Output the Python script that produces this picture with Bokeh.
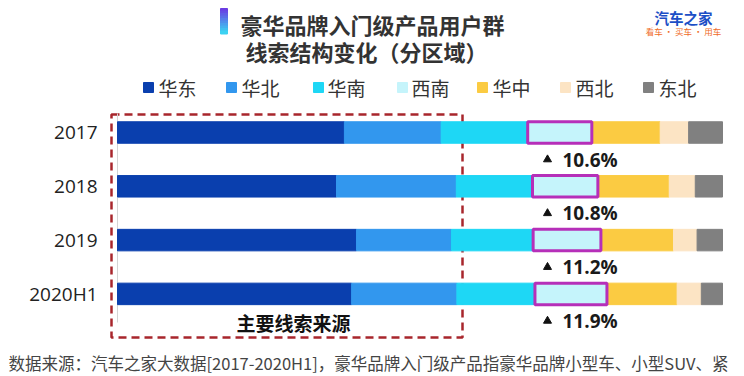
from bokeh.plotting import figure
from bokeh.models import ColumnDataSource, Range1d
from bokeh.embed import file_html
from bokeh.resources import INLINE
from bokeh.core.properties import value

# ---------------- data ----------------
years = ["2017", "2018", "2019", "2020H1"]
regions = ["华东", "华北", "华南", "西南", "华中", "西北", "东北"]
huadong = [37.5, 36.2, 39.5, 38.7]
huabei = [16.0, 19.8, 15.7, 17.4]
huanan = [14.3, 12.6, 13.5, 12.9]
xinan = [10.6, 10.8, 11.2, 11.9]
huazhong = [11.3, 11.8, 12.0, 11.6]
xibei = [4.7, 4.3, 3.9, 4.0]
dongbei = [5.6, 4.5, 4.2, 3.5]
xinan_labels = ["10.6%", "10.8%", "11.2%", "11.9%"]
colors = ["#0a3fae", "#3297ee", "#1ed7f5", "#c5f4fb", "#fbcb42", "#fce4c4", "#808080"]

title_lines = ["豪华品牌入门级产品用户群", "线索结构变化（分区域）"]
box_label = "主要线索来源"
footnote = "数据来源：汽车之家大数据[2017-2020H1]，豪华品牌入门级产品指豪华品牌小型车、小型SUV、紧"

# ---------------- layout helpers (pixel -> data) ----------------
W, H = 744, 376
PX0, PX_PER = 117.0, 6.05      # x pixel of 0 %, pixels per %
Y0, PY = 132.0, 53.8           # y pixel of first row, pixels per row


def dx(px):
    return (px - PX0) / PX_PER


def dy(py):
    return (py - Y0) / PY


CJK = value("Noto Sans CJK SC")
LAT = value("Open Sans")

p = figure(width=W, height=H, output_backend="svg", toolbar_location=None,
           x_range=Range1d(dx(0), dx(W)), y_range=Range1d(dy(H), dy(0)),
           x_axis_location=None, y_axis_location=None,
           min_border=0, min_border_left=0, min_border_right=0,
           min_border_top=0, min_border_bottom=0)
p.grid.visible = False
p.outline_line_color = None
p.background_fill_color = "white"
p.border_fill_color = "white"

idx = list(range(len(years)))
src = ColumnDataSource(dict(idx=idx, 华东=huadong, 华北=huabei, 华南=huanan,
                            西南=xinan, 华中=huazhong, 西北=xibei, 东北=dongbei))

BAR_H = 21.5 / PY

# dashed "main source" box
p.quad(left=[dx(111)], right=[dx(462)], top=[dy(114)], bottom=[dy(337)],
       fill_color=None, line_color="#a8262c", line_width=2.5, line_dash="8 5")

# axis line
p.segment(x0=[0], y0=[dy(113)], x1=[0], y1=[dy(322)], line_color="#d4d4d4", line_width=1)

# stacked bars
p.hbar_stack(regions, y="idx", height=BAR_H, color=colors, source=src)

# outline of 西南 segment
xl = [a + b + c for a, b, c in zip(huadong, huabei, huanan)]
xr = [l + v for l, v in zip(xl, xinan)]
p.hbar(y=idx, left=xl, right=xr, height=BAR_H, fill_color=None,
       line_color="#b62fb9", line_width=3)

# 西南 share labels
lab_y = [i + 27.0 / PY for i in idx]
p.scatter(x=[dx(547)] * len(idx), y=lab_y, marker="triangle", size=8,
          color="#111111")
p.text(x=[dx(562)] * len(idx), y=lab_y, text=xinan_labels, text_font=LAT,
       text_font_size=value("19px"), text_font_style="bold", text_color="#1a1a1a",
       text_align="left", text_baseline="middle")

# year (category) labels
p.text(x=[dx(97)] * len(idx), y=idx, text=years, text_font=LAT,
       text_font_size=value("19px"), text_color="#222222",
       text_align="right", text_baseline="middle")

# box label
p.text(x=[dx(293)], y=[dy(322)], text=[box_label], text_font=CJK,
       text_font_size=value("19px"), text_font_style="bold", text_color="#111111",
       text_align="center", text_baseline="middle")

# legend
sq_x = [148, 231, 318, 402, 482, 565, 648]
tx_x = [158, 241, 327, 411, 492, 575, 658]
p.scatter(x=[dx(v) for v in sq_x], y=[dy(87)] * len(regions), marker="square",
          size=10, color=colors)
p.text(x=[dx(v) for v in tx_x], y=[dy(87)] * len(regions), text=regions,
       text_font=CJK, text_font_size=value("19px"), text_color="#333333",
       text_align="left", text_baseline="middle")

# title
p.text(x=[dx(372), dx(366)], y=[dy(23), dy(50)], text=title_lines, text_font=CJK,
       text_font_size=value("22px"), text_font_style="bold", text_color="#333333",
       text_align="center", text_baseline="middle")

# gradient accent bar next to title
c0 = (0x6a, 0x3c, 0xe2)
c1 = (0x3c, 0xd2, 0xf2)
n = 10
top_px, bot_px = 8.0, 33.0
qs = dict(left=[], right=[], top=[], bottom=[], color=[])
for k in range(n):
    t = k / (n - 1)
    col = "#%02x%02x%02x" % tuple(int(round(a + (b - a) * t)) for a, b in zip(c0, c1))
    y_a = top_px + (bot_px - top_px) * k / n
    y_b = top_px + (bot_px - top_px) * (k + 1) / n
    qs["left"].append(dx(220))
    qs["right"].append(dx(227))
    qs["top"].append(dy(y_a))
    qs["bottom"].append(dy(y_b + 0.5))
    qs["color"].append(col)
p.quad(left="left", right="right", top="top", bottom="bottom", color="color",
       source=ColumnDataSource(qs))

# logo
p.text(x=[dx(683)], y=[dy(17)], text=["汽车之家"], text_font=CJK,
       text_font_size=value("14.5px"), text_font_style="bold", text_color="#1c4fc6",
       text_align="center", text_baseline="middle")
p.text(x=[dx(683)], y=[dy(30)], text=["看车 · 买车 · 用车"], text_font=CJK,
       text_font_size=value("8.5px"), text_color="#ef6b1f",
       text_align="center", text_baseline="middle")

# footnote
p.text(x=[dx(8)], y=[dy(362)], text=[footnote], text_font=CJK,
       text_font_size=value("16.5px"), text_color="#444444",
       text_align="left", text_baseline="middle")

open("out.html", "w").write(file_html(p, INLINE))
